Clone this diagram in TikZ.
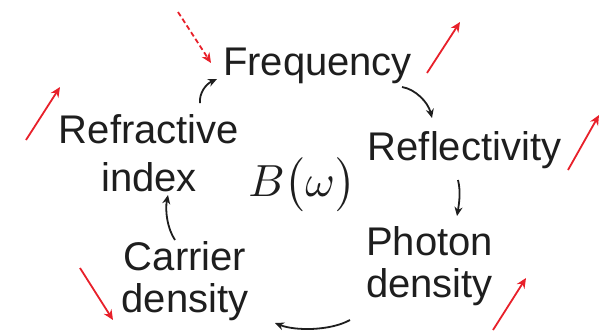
\documentclass[tikz,border=0pt]{standalone}
\usepackage{fontspec}
\usepackage{graphicx}
\setmainfont{Liberation Sans}
\usetikzlibrary{arrows.meta}
\definecolor{ink}{HTML}{1E1E1E}
\definecolor{redarr}{HTML}{E8202A}
\tikzset{
  lbl/.style={inner sep=0pt, text=ink, font=\fontsize{40}{42}\selectfont, align=center, anchor=base},
  conn/.style={draw=ink, line width=1.8pt, -{Stealth[length=9pt,width=8pt]}},
  redind/.style={draw=redarr, line width=1.8pt, -{Stealth[length=10pt,width=9pt]}},
}
\begin{document}
\begin{tikzpicture}[x=1pt,y=-1pt]
\useasboundingbox[fill=white] (0,0) rectangle (599,333);
% labels (base anchor = baseline of last line)
\node[lbl] (freq) at (317.5,75) {Frequency};
\node[lbl] (refl) at (464.5,160) {Reflectivity};
\node[lbl] (refr) at (149,191) {Refractive\\[6pt]index};
\node[lbl] (phot) at (429.5,297) {Photon\\density};
\node[lbl] (carr) at (185,312) {Carrier\\density};
\node[inner sep=0pt, text=ink, anchor=base] (bw) at (302,196) {\scalebox{4.5}{$B\big(\omega\big)$}};
% connector end points
\coordinate (a1s) at (200,103); \coordinate (a1e) at (217,79);
\coordinate (a2s) at (402,87);  \coordinate (a2e) at (432,118);
\coordinate (a3s) at (458,180); \coordinate (a3e) at (457,216);
\coordinate (a4s) at (350,320); \coordinate (a4e) at (275,323);
\coordinate (a5s) at (175,240); \coordinate (a5e) at (168,195);
\draw[conn] (a1s) .. controls (199,93) and (206,84) .. (a1e);
\draw[conn] (a2s) .. controls (415,89) and (428,102) .. (a2e);
\draw[conn] (a3s) .. controls (461,192) and (459,204) .. (a3e);
\draw[conn] (a4s) .. controls (330,331) and (295,331) .. (a4e);
\draw[conn] (a5s) .. controls (167,228) and (165,210) .. (a5e);
% red indicator arrows
\coordinate (r1s) at (178,12);  \coordinate (r1e) at (211,63);
\coordinate (r2s) at (427,73);  \coordinate (r2e) at (460,22);
\coordinate (r3s) at (26,140);  \coordinate (r3e) at (60,87);
\coordinate (r4s) at (568,170); \coordinate (r4e) at (599,115);
\coordinate (r5s) at (493,330); \coordinate (r5e) at (526,278);
\coordinate (r6s) at (80,268);  \coordinate (r6e) at (113,320);
\draw[redind, dashed, dash pattern=on 5pt off 3pt] (r1s) -- (r1e);
\draw[redind] (r2s) -- (r2e);
\draw[redind] (r3s) -- (r3e);
\draw[redind] (r4s) -- (r4e);
\draw[redind] (r5s) -- (r5e);
\draw[redind] (r6s) -- (r6e);
\end{tikzpicture}
\end{document}
